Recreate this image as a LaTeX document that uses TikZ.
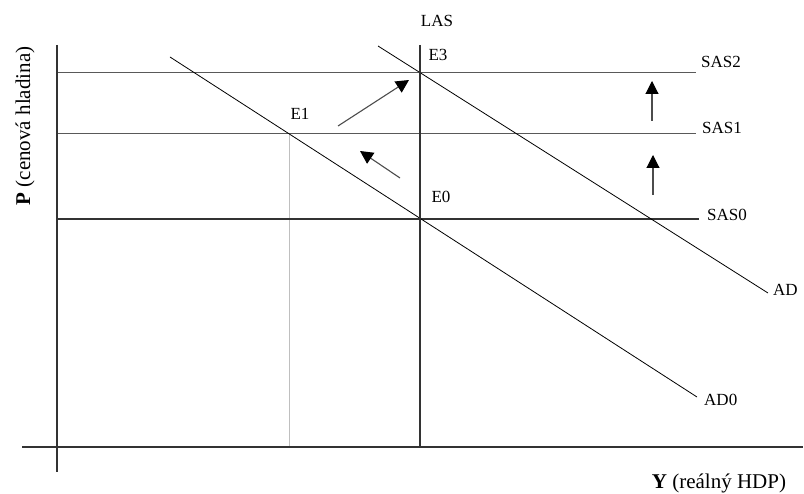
\documentclass[tikz,border=0pt]{standalone}
\usepackage{fontspec}
\setmainfont{Liberation Serif}
\usepackage{xcolor}
\usepackage{tikz}
\usetikzlibrary{arrows.meta,positioning}

\begin{document}
\begin{tikzpicture}[
    x=1pt, y=-1pt,
    axis/.style={line width=1.3pt, draw=black!80},
    sasline/.style={line width=1pt, draw=black!65},
    adline/.style={line width=0.8pt, draw=black},
    helper/.style={line width=1pt, draw=black!25},
    movearrow/.style={line width=1.1pt, draw=black!70, -{Triangle[length=13pt,width=13pt,color=black]}},
    lbl/.style={font=\fontsize{17}{20}\selectfont, inner sep=0pt},
    axlbl/.style={font=\fontsize{21}{24}\selectfont, inner sep=0pt}
]
    \useasboundingbox (0,0) rectangle (804,494);

    % Points
    \coordinate (ytop) at (57,45);
    \coordinate (ybot) at (57,472);
    \coordinate (xleft) at (22,447);
    \coordinate (xright) at (803,447);
    \coordinate (e0) at (420,219);
    \coordinate (e1) at (289,134);
    \coordinate (e3) at (420,73);
    \coordinate (lastop) at (420,45);
    \coordinate (lasbot) at (420,447);
    \coordinate (e1bot) at (289,447);
    \coordinate (sas2a) at (57,73);
    \coordinate (sas2b) at (696,73);
    \coordinate (sas1a) at (57,134);
    \coordinate (sas1b) at (696,134);
    \coordinate (sas0a) at (57,219);
    \coordinate (sas0b) at (699,219);
    \coordinate (ad0a) at (170,57);
    \coordinate (ad0b) at (697,397);
    \coordinate (ada) at (378,46);
    \coordinate (adb) at (768,293);

    % Arrow ends
    \coordinate (a1s) at (338,126);
    \coordinate (a1e) at (409,80);
    \coordinate (a2s) at (400,178);
    \coordinate (a2e) at (360,151);
    \coordinate (a3s) at (652,121);
    \coordinate (a3e) at (652,81);
    \coordinate (a4s) at (653,195);
    \coordinate (a4e) at (653,155);

    % Labels
    \node[lbl] (las) at (437,21) {LAS};
    \node[lbl] (le3) at (438,55) {E3};
    \node[lbl] (le1) at (300,114) {E1};
    \node[lbl] (le0) at (441,197) {E0};
    \node[lbl, anchor=west] (lsas2) at (701,62) {SAS2};
    \node[lbl, anchor=west] (lsas1) at (702,128) {SAS1};
    \node[lbl, anchor=west] (lsas0) at (707,215) {SAS0};
    \node[lbl, anchor=west] (lad) at (773,290) {AD};
    \node[lbl, anchor=west] (lad0) at (704,400) {AD0};
    \node[axlbl] (xlbl) at (719,483) {\textbf{Y} (reálný HDP)};
    \node[axlbl, rotate=90] (ylbl) at (25,126) {\textbf{P} (cenová hladina)};

    % Helper line
    \draw[helper] (e1) -- (e1bot);

    % SAS curves
    \draw[sasline] (sas2a) -- (sas2b);
    \draw[sasline] (sas1a) -- (sas1b);
    \draw[axis] (sas0a) -- (sas0b);

    % AD curves
    \draw[adline] (ad0a) -- (ad0b);
    \draw[adline] (ada) -- (adb);

    % LAS
    \draw[axis] (lastop) -- (lasbot);

    % Axes
    \draw[axis] (ytop) -- (ybot);
    \draw[axis] (xleft) -- (xright);

    % Shifts
    \draw[movearrow] (a1s) -- (a1e);
    \draw[movearrow] (a2s) -- (a2e);
    \draw[movearrow] (a3s) -- (a3e);
    \draw[movearrow] (a4s) -- (a4e);

\end{tikzpicture}
\end{document}
